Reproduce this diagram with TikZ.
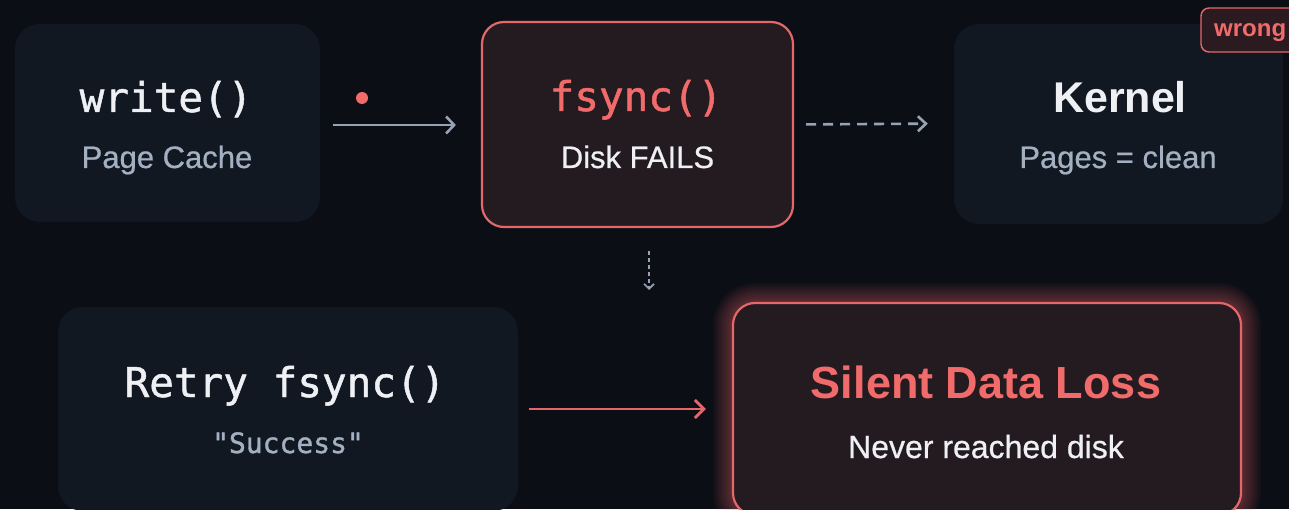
\documentclass[tikz,border=0pt]{standalone}
\usepackage{fontspec}
\setmainfont{Liberation Sans}
\setmonofont{DejaVu Sans Mono}
\newfontfamily\submedium{Liberation Sans}[FakeBold=0.6]
\newfontfamily\monomedium{DejaVu Sans Mono}[FakeBold=1.2]
\usetikzlibrary{arrows.meta}
\definecolor{bg}{HTML}{0B0E15}
\definecolor{boxfill}{HTML}{111822}
\definecolor{redfill}{HTML}{241B21}
\definecolor{redline}{HTML}{E5676A}
\definecolor{redtext}{HTML}{F26B6B}
\definecolor{graytext}{HTML}{A3B0C2}
\definecolor{arrowgray}{HTML}{97A3B3}
\definecolor{whitetext}{HTML}{EEF0F4}
\definecolor{badgefill}{HTML}{2B1B21}
\tikzset{
  darkbox/.style={rectangle, rounded corners=25pt, fill=boxfill, draw=none, inner sep=0pt},
  redbox/.style={rectangle, rounded corners=22pt, fill=redfill, draw=redline, line width=2.2pt, inner sep=0pt},
  glowlayer/.style={preaction={draw=redline, line width=#1, draw opacity=0.045}},
  glowbox/.style={redbox,
    glowlayer=40pt, glowlayer=36pt, glowlayer=32pt, glowlayer=28pt,
    glowlayer=24pt, glowlayer=20pt, glowlayer=16pt, glowlayer=12pt,
    glowlayer=9pt, glowlayer=6pt},
  badge/.style={rectangle, rounded corners=8pt, fill=badgefill, draw=redline, line width=1.4pt, inner sep=0pt},
  monotitle/.style={anchor=base, inner sep=0pt, font=\monomedium\fontsize{41}{41}\selectfont},
  sanssub/.style={anchor=base, inner sep=0pt, font=\submedium\fontsize{31}{31}\selectfont},
  flowarrow/.style={draw=arrowgray, line width=2.6pt, -{Straight Barb[length=8pt,width=17pt]}},
  dasharrow/.style={draw=arrowgray, line width=2.6pt, dash pattern=on 10pt off 7pt, -{Straight Barb[length=8pt,width=15pt]}},
  smalldash/.style={draw=arrowgray, line width=1.6pt, dash pattern=on 4pt off 3pt, -{Straight Barb[length=5pt,width=10pt]}},
  redarrow/.style={draw=redline, line width=2.8pt, -{Straight Barb[length=9pt,width=18pt]}},
}
\begin{document}
\begin{tikzpicture}[x=1pt,y=1pt]
\useasboundingbox (0,0) rectangle (1289,509);
\clip (0,0) rectangle (1289,509);
\fill[bg] (0,0) rectangle (1289,509);

% top row
\node[darkbox, minimum width=305pt, minimum height=198pt] (w) at (167.5,386) {};
\node[redbox, minimum width=311pt, minimum height=205pt] (f) at (637.5,384.5) {};
\node[darkbox, minimum width=329pt, minimum height=200pt] (k) at (1118.5,385) {};
\node[badge, minimum width=109pt, minimum height=44pt] (b) at (1255.5,479) {};

% bottom row
\node[darkbox, minimum width=460pt, minimum height=204pt] (r) at (288,100) {};
\node[glowbox, minimum width=508pt, minimum height=212pt] (s) at (987,100) {};

% texts
\node[monotitle, text=whitetext] (wt) at (166,397) {write()};
\node[sanssub, text=graytext] (ws) at (167,341) {Page Cache};
\node[monotitle, text=redtext] (ft) at (636,398) {fsync()};
\node[sanssub, text=whitetext] (fs) at (637.5,341) {Disk FAILS};
\node[anchor=base, inner sep=0pt, text=whitetext, font=\bfseries\fontsize{43}{43}\selectfont] (kt) at (1120,396) {Kernel};
\node[sanssub, text=graytext] (ks) at (1118,341) {Pages = clean};
\node[anchor=base west, inner sep=0pt, text=redtext, font=\bfseries\fontsize{24}{24}\selectfont] (bt) at (1214,472) {wrong};
\node[monotitle, text=whitetext] (rt) at (285,112) {Retry fsync()};
\node[anchor=base, inner sep=0pt, text=graytext, font=\monomedium\fontsize{28}{28}\selectfont] (rs) at (288,56) {"Success"};
\node[anchor=base, inner sep=0pt, text=redtext, font=\bfseries\fontsize{45}{45}\selectfont] (st) at (986,111) {Silent Data Loss};
\node[anchor=base, inner sep=0pt, text=whitetext, font=\submedium\fontsize{32}{32}\selectfont] (ss) at (986,51) {Never reached disk};

% red dot
\fill[redtext] (362,411) circle (6pt);

% connectors
\coordinate (mid) at (649,219);
\draw[flowarrow, shorten <=13pt, shorten >=25pt] ([yshift=-2pt]w.east) -- ([yshift=-0.5pt]f.west);
\draw[dasharrow, shorten <=12pt, shorten >=26pt] (f.east) -- ([yshift=0.5pt]k.west);
\draw[smalldash, shorten <=23pt] ([xshift=11.5pt]f.south) -- (mid);
\draw[redarrow, shorten <=11pt, shorten >=26pt] (r.east) -- (s.west);
\end{tikzpicture}
\end{document}
